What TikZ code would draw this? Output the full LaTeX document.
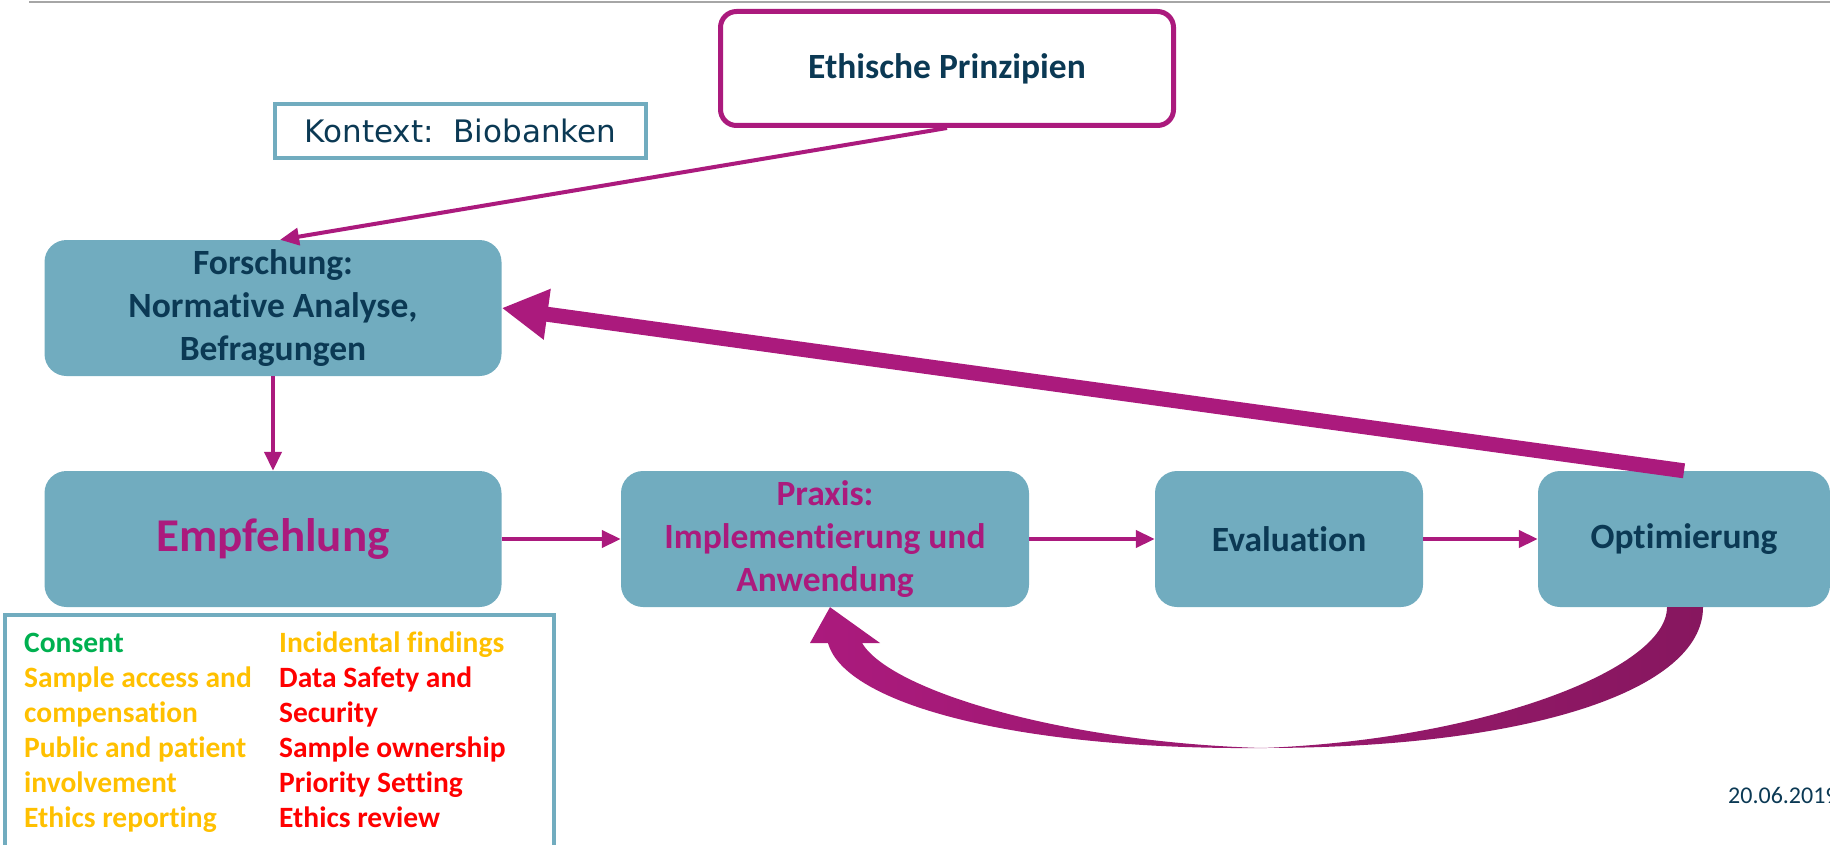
\documentclass[tikz,border=0pt]{standalone}
\usepackage{fontspec}
\setmainfont{Carlito}[Ligatures=NoCommon]
\newfontfamily\kontextfont{DejaVu Sans}
\usetikzlibrary{calc,arrows.meta}
\definecolor{boxteal}{HTML}{71ACBF}
\definecolor{inknavy}{HTML}{0B3954}
\definecolor{arrowmag}{HTML}{AB1A7D}
\definecolor{arrowdark}{HTML}{87175F}
\definecolor{okgreen}{HTML}{00B050}
\definecolor{warnorange}{HTML}{FFC000}
\definecolor{badred}{HTML}{FF0000}

\begin{document}
\begin{tikzpicture}[x=1pt, y=-1pt,
	stage/.style={fill=boxteal, rounded corners=22pt, inner sep=0pt, minimum height=136pt, align=center, text=inknavy, font=\bfseries\fontsize{35.5}{43}\selectfont},
	thinarrow/.style={draw=arrowmag, line width=4pt, -{Triangle[length=19pt,width=17pt]}},
	listcol/.style={anchor=north west, inner sep=0pt, align=left, font=\bfseries\fontsize{29.5}{35}\selectfont}]
			%%%%% START %%%%%
			
			\useasboundingbox (0,0) rectangle (1830,845);
			\clip (0,0) rectangle (1830,845);
			
			\draw[draw=black!35, line width=2.5pt] (29,2) -- (1830,2);
			
			\node[draw=arrowmag, line width=5pt, rounded corners=16pt, minimum width=453pt, minimum height=114pt, inner sep=0pt, text=inknavy, font=\bfseries\fontsize{35.5}{40}\selectfont] (ethik) at (947,68.5) {Ethische Prinzipien};
			\node[draw=boxteal, line width=4pt, minimum width=371pt, minimum height=54pt, inner sep=0pt, text=inknavy, font=\kontextfont\fontsize{31}{36}\selectfont] (kontext) at (460.5,131) {Kontext:\ \ Biobanken};
			
			\node[stage, minimum width=457pt] (forschung) at (273,308) {Forschung:\\Normative Analyse,\\Befragungen};
			\node[stage, minimum width=457pt, text=arrowmag, font=\bfseries\fontsize{47}{52}\selectfont] (empf) at (273,539) {Empfehlung};
			\node[stage, minimum width=408pt, text=arrowmag] (praxis) at (825,539) {Praxis:\\Implementierung und\\Anwendung};
			\node[stage, minimum width=268pt] (eval) at (1289,539) {Evaluation};
			\node[stage, minimum width=292pt] (optim) at (1684,539) {Optimierung};
			
			\draw[thinarrow] (ethik.south) -- ($(forschung.north)+(7,0)$);
			\draw[thinarrow] (forschung.south) -- (empf.north);
			\draw[thinarrow] (empf.east) -- (praxis.west);
			\draw[thinarrow] (praxis.east) -- (eval.west);
			\draw[thinarrow] (eval.east) -- (optim.west);
			\draw[draw=arrowmag, line width=15pt, -{Triangle[length=46pt,width=48pt]}] (optim.north) -- (forschung.east);
			
			% rueckkopplung optimierung -> praxis
			\shade[left color=arrowmag, right color=arrowdark]
				($(optim.south)+(19,0)$) .. controls (1703,690) and (1530,748) .. (1262,748)
				.. controls (1020,750) and (845,705) .. (828,643)
				-- (810,643) -- ($(praxis.south)+(5,0)$) -- (880,643) -- (862,643)
				.. controls (890,690) and (1060,742) .. (1262,748)
				.. controls (1480,740) and (1667,670) .. ($(optim.south)+(-17,0)$) -- cycle;
			
			\draw[draw=boxteal, line width=4pt] (5,615) rectangle (554,870);
			\node[listcol] (themenlinks) at (24,627.5) {\strut\textcolor{okgreen}{Consent}\\
				\textcolor{warnorange}{Sample access and}\\
				\textcolor{warnorange}{compensation}\\
				\textcolor{warnorange}{Public and patient}\\
				\textcolor{warnorange}{involvement}\\
				\textcolor{warnorange}{Ethics reporting}};
			\node[listcol] (themenrechts) at (279,627.5) {\strut\textcolor{warnorange}{Incidental findings}\\
				\textcolor{badred}{Data Safety and}\\
				\textcolor{badred}{Security}\\
				\textcolor{badred}{Sample ownership}\\
				\textcolor{badred}{Priority Setting}\\
				\textcolor{badred}{Ethics review}};
			
			\node[anchor=base west, inner sep=0pt, text=inknavy, font=\fontsize{24}{28}\selectfont] (datum) at (1728,803) {20.06.2019};
			
			%%%%% END %%%%%
\end{tikzpicture}
\end{document}
